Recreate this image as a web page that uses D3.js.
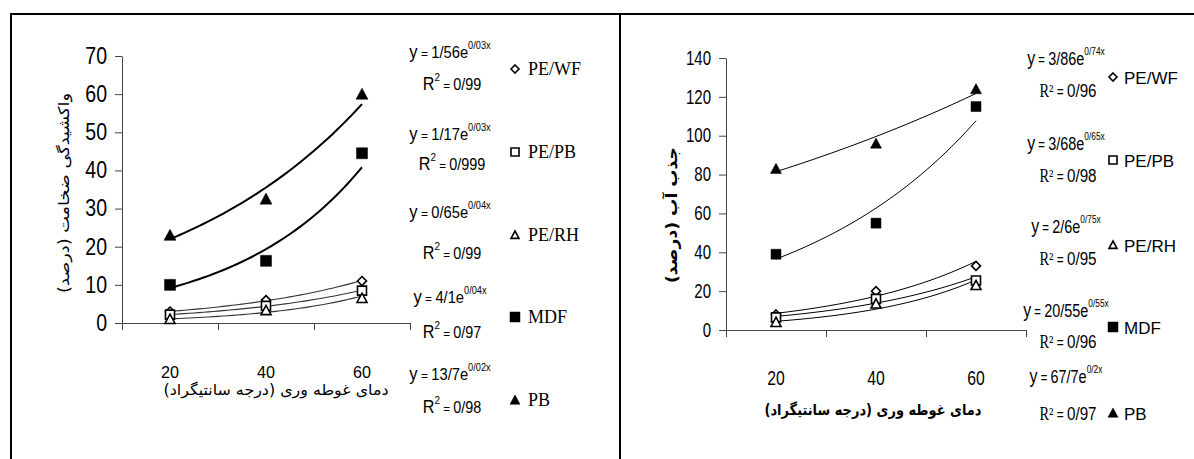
<!DOCTYPE html>
<html><head><meta charset="utf-8">
<script src="https://cdn.jsdelivr.net/npm/d3@7"></script>
<style>
body{margin:0;background:#fff}
</style>
</head><body><svg id="c" width="1194" height="459"></svg>
<script>
// ---------- data ----------
const categories = ["20", "40", "60"];
const seriesNames = ["PE/WF", "PE/PB", "PE/RH", "MDF", "PB"];

const leftPEWF = [3, 6, 11];
const leftPEPB = [2.2, 4.5, 8.5];
const leftPERH = [1, 3.3, 6.5];
const leftMDF  = [10, 16.3, 44.5];
const leftPB   = [23, 32.5, 60];

const rightPEWF = [8, 20, 33];
const rightPEPB = [6.5, 16, 25.5];
const rightPERH = [4, 13.5, 23];
const rightMDF  = [39, 55, 115];
const rightPB   = [83, 96, 124];

const leftYTicks  = [0, 10, 20, 30, 40, 50, 60, 70];
const rightYTicks = [0, 20, 40, 60, 80, 100, 120, 140];

const leftEqCoef = ["1/56", "1/17", "0/65", "4/1", "13/7"];
const leftEqExp  = ["0/03x", "0/03x", "0/04x", "0/04x", "0/02x"];
const leftR2     = ["0/99", "0/999", "0/99", "0/97", "0/98"];

const rightEqCoef = ["3/86", "3/68", "2/6", "20/55", "67/7"];
const rightEqExp  = ["0/74x", "0/65x", "0/75x", "0/55x", "0/2x"];
const rightR2     = ["0/96", "0/98", "0/95", "0/96", "0/97"];

const leftYTitle  = "واکشیدگی ضخامت (درصد)";
const rightYTitle = "جذب آب (درصد)";
const xTitle      = "دمای غوطه وری (درجه سانتیگراد)";

// ---------- helpers ----------
const svg = d3.select("#c");
const SANS = '"Liberation Sans",Arial,sans-serif';
const SERIF = '"Liberation Serif","Times New Roman",serif';
const ARAB = '"DejaVu Sans",sans-serif';

function condense(sel, f) {
  sel.each(function () {
    const t = d3.select(this);
    const x0 = +t.attr("x") || 0;
    t.attr("x", x0 / f).attr("transform", `scale(${f},1)`);
  });
}

function richText(parent, cx, by, parts, f) {
  const g = parent.append("g");
  let x = 0;
  parts.forEach(p => {
    const t = g.append("text").attr("x", x).attr("y", p.dy || 0)
      .attr("font-family", p.family).attr("font-size", p.size).attr("fill", "#000")
      .attr("xml:space", "preserve").style("white-space", "pre").text(p.text);
    x += t.node().getComputedTextLength();
  });
  g.attr("transform", `translate(${cx - x * f / 2},${by}) scale(${f},1)`);
  return g;
}

const markerTypes = ["diamondOpen", "squareOpen", "triangleOpen", "squareFilled", "triangleFilled"];
function markerPath(type, s) {
  const r = s / 2;
  if (type.startsWith("diamond")) return `M0,${-r}L${r},0L0,${r}L${-r},0Z`;
  if (type.startsWith("square")) return `M${-r},${-r}H${r}V${r}H${-r}Z`;
  return `M0,${-r}L${r},${r * 0.85}L${-r},${r * 0.85}Z`;
}
function drawMarker(g, type, x, y, s) {
  const filled = type.endsWith("Filled");
  g.append("path").attr("transform", `translate(${x},${y})`)
    .attr("d", markerPath(type, s))
    .attr("fill", filled ? "#000" : "#fff")
    .attr("stroke", "#000").attr("stroke-width", filled ? 0.5 : 1.6);
}
function expFit(vals) {
  const n = vals.length, xs = d3.range(n), ly = vals.map(Math.log);
  const mx = d3.mean(xs), my = d3.mean(ly);
  const b = d3.sum(xs, (x, i) => (x - mx) * (ly[i] - my)) / d3.sum(xs, x => (x - mx) ** 2);
  const a = my - b * mx;
  return t => Math.exp(a + b * t);
}

function panel(cfg) {
  const g = svg.append("g");
  const x = d3.scaleBand().domain(categories).range(cfg.xRange);
  const xb = d3.scaleLinear().domain([0, categories.length]).range(cfg.xRange);
  const xi = d3.scaleLinear().domain([0, categories.length - 1])
    .range([x(categories[0]) + x.bandwidth() / 2, x(categories[categories.length - 1]) + x.bandwidth() / 2]);
  const y = d3.scaleLinear().domain(cfg.yDomain).range(cfg.yRange);

  const ya = g.append("g").attr("transform", `translate(${cfg.xRange[0]},0)`)
    .call(d3.axisLeft(y).tickValues(cfg.yTicks).tickSize(7).tickSizeOuter(0).tickPadding(cfg.yPad));
  ya.selectAll("text").attr("font-family", SANS).attr("font-size", cfg.yFont).attr("fill", "#000");
  condense(ya.selectAll("text"), cfg.ySq);
  ya.selectAll("line,path").attr("stroke", "#444");

  const xa = g.append("g").attr("transform", `translate(0,${cfg.yRange[0]})`)
    .call(d3.axisBottom(xb).tickValues(d3.range(categories.length + 1)).tickFormat("").tickSize(7).tickSizeOuter(0));
  xa.selectAll("line,path").attr("stroke", "#444");
  const xl = g.append("g").attr("transform", `translate(0,${cfg.yRange[0]})`)
    .call(d3.axisBottom(x).tickSize(0).tickPadding(cfg.xPad));
  xl.select(".domain").remove();
  xl.selectAll("text").attr("font-family", SANS).attr("font-size", cfg.xFont).attr("fill", "#000");
  condense(xl.selectAll("text"), cfg.xSq);

  const line = d3.line().x(d => xi(d[0])).y(d => y(d[1]));
  cfg.series.forEach((vals, i) => {
    const f = expFit(vals);
    const pts = d3.range(0, 2.0001, 0.05).map(t => [t, f(t)]);
    g.append("path").attr("d", line(pts)).attr("fill", "none")
      .attr("stroke", cfg.lineColor[i]).attr("stroke-width", cfg.lineW[i]);
  });
  cfg.series.forEach((vals, i) => {
    vals.forEach((v, j) => drawMarker(g, markerTypes[i], xi(j), y(v), cfg.mSize[i]));
  });
  return g;
}

// ---------- frame ----------
svg.append("line").attr("x1", 10).attr("x2", 1194).attr("y1", 14).attr("y2", 14).attr("stroke", "#000").attr("stroke-width", 2);
svg.append("line").attr("x1", 11).attr("x2", 11).attr("y1", 13).attr("y2", 459).attr("stroke", "#000").attr("stroke-width", 2);
svg.append("line").attr("x1", 620).attr("x2", 620).attr("y1", 13).attr("y2", 459).attr("stroke", "#000").attr("stroke-width", 2);

// ---------- left panel ----------
panel({
  xRange: [122, 410], yDomain: [0, 70], yRange: [323, 56], yTicks: leftYTicks,
  yFont: 23, ySq: 0.85, yPad: 8, xFont: 17, xSq: 0.95, xPad: 43,
  series: [leftPEWF, leftPEPB, leftPERH, leftMDF, leftPB],
  lineW: [1.1, 1.1, 1.1, 2, 2], lineColor: ["#333", "#333", "#333", "#000", "#000"],
  mSize: [9, 9, 10, 11, 12]
});
// ---------- right panel ----------
panel({
  xRange: [726, 1026], yDomain: [0, 140], yRange: [330, 58], yTicks: rightYTicks,
  yFont: 19.5, ySq: 0.77, yPad: 8, xFont: 21, xSq: 0.75, xPad: 40,
  series: [rightPEWF, rightPEPB, rightPERH, rightMDF, rightPB],
  lineW: [1, 1, 1, 1, 1], lineColor: ["#000", "#000", "#000", "#000", "#000"],
  mSize: [9, 9, 10, 10, 11]
});

// ---------- axis titles ----------
svg.append("text").attr("x", 276).attr("y", 395).attr("text-anchor", "middle").attr("direction", "rtl")
  .attr("font-family", ARAB).attr("font-size", 15).attr("textLength", 225).attr("lengthAdjust", "spacingAndGlyphs")
  .text(xTitle);
svg.append("text").attr("transform", "translate(64,193) rotate(-90)").attr("text-anchor", "middle").attr("direction", "rtl")
  .attr("dominant-baseline", "central")
  .attr("font-family", ARAB).attr("font-size", 15).attr("textLength", 200).attr("lengthAdjust", "spacingAndGlyphs")
  .text(leftYTitle);
svg.append("text").attr("x", 873).attr("y", 415).attr("text-anchor", "middle").attr("direction", "rtl")
  .attr("font-family", ARAB).attr("font-size", 15).attr("font-weight", "bold").attr("textLength", 217).attr("lengthAdjust", "spacingAndGlyphs")
  .text(xTitle);
svg.append("text").attr("transform", "translate(671,215) rotate(-90)").attr("text-anchor", "middle").attr("direction", "rtl")
  .attr("dominant-baseline", "central")
  .attr("font-family", ARAB).attr("font-size", 16).attr("font-weight", "bold").attr("textLength", 136).attr("lengthAdjust", "spacingAndGlyphs")
  .text(rightYTitle);

// ---------- legends ----------
const leftLeg = { eqX: 450, eqY: [58, 140, 218, 303, 380], r2Y: [90, 170, 259, 338, 413], mX: 515, mY: [69, 152, 235, 317, 400], lX: 528 };
seriesNames.forEach((name, i) => {
  richText(svg, leftLeg.eqX, leftLeg.eqY[i], [
    { text: "y", size: 18, family: SANS },
    { text: " = ", size: 13, family: SANS },
    { text: leftEqCoef[i] + "e", size: 16, family: SANS },
    { text: leftEqExp[i], size: 10, family: SANS, dy: -9 }
  ], 0.92);
  richText(svg, leftLeg.eqX + 2, leftLeg.r2Y[i], [
    { text: "R", size: 18, family: SANS },
    { text: "2", size: 11, family: SANS, dy: -9 },
    { text: " = ", size: 13, family: SANS },
    { text: leftR2[i], size: 16, family: SANS }
  ], 0.9);
  drawMarker(svg, markerTypes[i], leftLeg.mX, leftLeg.mY[i], i >= 3 ? 10 : 8);
  svg.append("text").attr("x", leftLeg.lX).attr("y", leftLeg.mY[i] + 6).attr("font-family", SERIF).attr("font-size", 18).text(name);
});

const rightLeg = { eqX: 1066, eqY: [65, 150, 233, 317, 383], r2Y: [97, 182, 265, 348, 420], mX: 1113, mY: [77, 160, 245, 327, 413], lX: 1124 };
seriesNames.forEach((name, i) => {
  richText(svg, rightLeg.eqX, rightLeg.eqY[i], [
    { text: "y", size: 21, family: SANS },
    { text: " = ", size: 15, family: SANS },
    { text: rightEqCoef[i] + "e", size: 19, family: SANS },
    { text: rightEqExp[i], size: 11, family: SANS, dy: -10 }
  ], 0.76);
  richText(svg, rightLeg.eqX + 2, rightLeg.r2Y[i], [
    { text: "R²", size: 18, family: SERIF },
    { text: " = ", size: 15, family: SANS },
    { text: rightR2[i], size: 19, family: SANS }
  ], 0.8);
  drawMarker(svg, markerTypes[i], rightLeg.mX, rightLeg.mY[i], i >= 3 ? 10 : 8);
  svg.append("text").attr("x", rightLeg.lX).attr("y", rightLeg.mY[i] + 7).attr("font-family", SANS).attr("font-size", 17).text(name);
});
</script></body></html>
